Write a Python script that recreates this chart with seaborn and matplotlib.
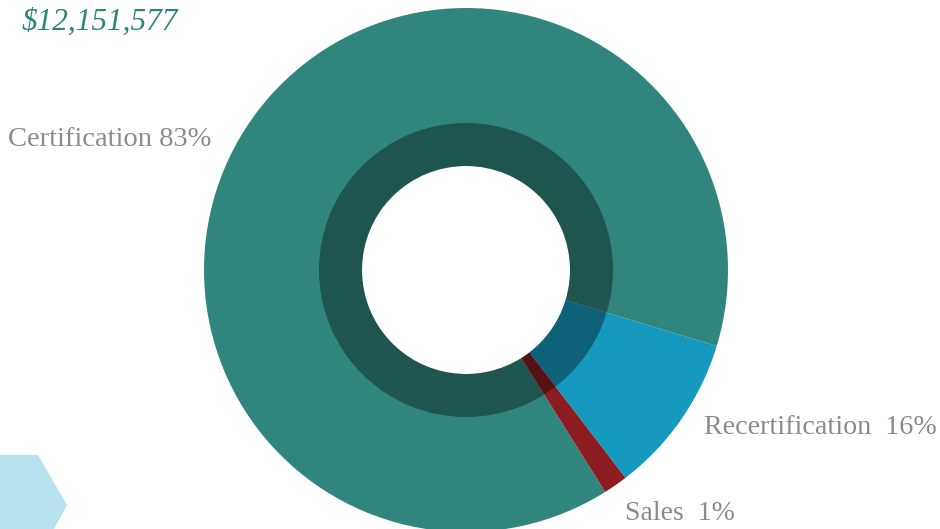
import matplotlib
matplotlib.use("Agg")
import matplotlib.pyplot as plt
from matplotlib.patches import Wedge, Polygon
import seaborn as sns

# Data
categories = ["Certification", "Recertification", "Sales"]
shares = [88.6, 9.9, 1.5]          # drawn slice sizes as seen in the picture
label_texts = ["Certification 83%", "Recertification  16%", "Sales  1%"]
total_text = "$12,151,577"

sns.set_theme(style="white")
plt.rcParams['font.family'] = ['Liberation Serif', 'DejaVu Serif']

colors = ["#30867c", "#1699be", "#8b1c1f"]
W, H = 940, 529
fig = plt.figure(figsize=(W / 100, H / 100), dpi=100)
ax = fig.add_axes([0, 0, 1, 1])

cx, cy = 466, H - 270
R_out, R_in, R_ring = 262, 104, 147

ax.pie(shares, colors=colors, startangle=-57.9, counterclock=False,
       center=(cx, cy), radius=R_out,
       wedgeprops=dict(width=R_out - R_in, linewidth=0), frame=False)
ax.set_xlim(0, W)
ax.set_ylim(0, H)
ax.set_aspect("equal")
ax.axis("off")

# dark inner ring overlay
ax.add_patch(Wedge((cx, cy), R_ring, 0, 360, width=R_ring - R_in,
                   facecolor="black", alpha=0.36, linewidth=0))

# decorative shape bottom-left
ax.add_patch(Polygon([(0, H - 455), (38, H - 455), (67, H - 505), (54, 0), (0, 0)],
                     closed=True, facecolor="#b7e3ef", edgecolor="none"))

grey = "#8a8a8a"
ax.text(22, H - 22, total_text, color="#2e8479", fontsize=22.5, style="italic",
        va="center", ha="left")
ax.text(8, H - 139, label_texts[0], color=grey, fontsize=20.5, va="center", ha="left")
ax.text(704, H - 428, label_texts[1], color=grey, fontsize=20.2, va="center", ha="left")
ax.text(625, H - 513, label_texts[2], color=grey, fontsize=20, va="center", ha="left")

fig.savefig("out.png", dpi=100)
